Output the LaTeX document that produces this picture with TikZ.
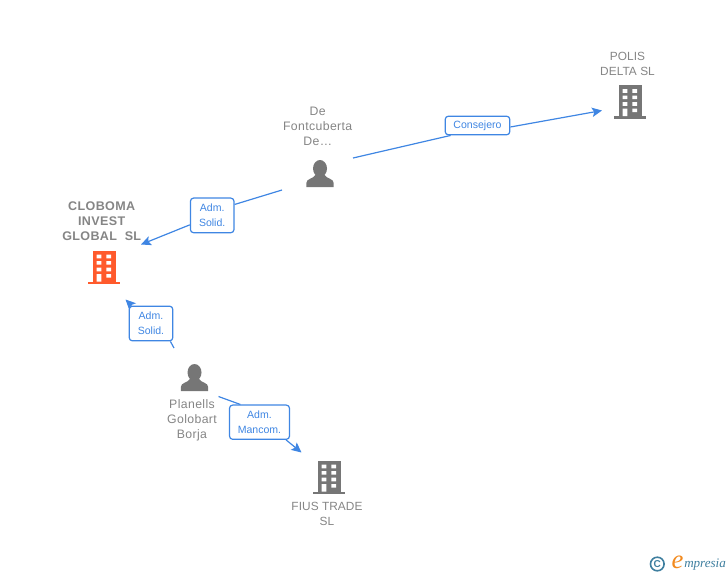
\documentclass[tikz,border=0pt]{standalone}
\usepackage{fontspec}
\setmainfont{Liberation Sans}
\newfontfamily\nameletter[LetterSpace=3]{Liberation Sans}
\newfontfamily\capsletter[LetterSpace=0.5]{Liberation Sans}
\newfontfamily\logofont{Liberation Serif}
\usetikzlibrary{arrows.meta,calc}
\definecolor{linkblue}{HTML}{3F86E3}
\definecolor{namegray}{HTML}{858585}
\definecolor{icongray}{HTML}{767676}
\definecolor{iconorange}{HTML}{FF5A2C}
\definecolor{logoteal}{HTML}{3F7F9F}
\definecolor{logoorange}{HTML}{F28A1E}
\tikzset{
  x=0.75pt,y=-0.75pt,
  namelabel/.style={text=namegray,align=center,font=\fontsize{9.2pt}{11.25pt}\selectfont\nameletter,inner sep=0pt},
  capslabel/.style={namelabel,font=\fontsize{8.9pt}{11.25pt}\selectfont\capsletter},
  mainlabel/.style={namelabel,font=\fontsize{9.4pt}{11.25pt}\selectfont\nameletter\bfseries},
  rolebox/.style={draw=linkblue,line width=0.9pt,rounded corners=2.4pt,fill=white,text=linkblue,align=center,
    font=\fontsize{7.9pt}{11.25pt}\selectfont,inner sep=0pt},
  link/.style={draw=linkblue,line width=0.9pt},
  linkarrow/.style={link,-{Stealth[length=7.5pt,width=7pt,inset=1.6pt]}},
  pics/building/.style={code={
    \fill[#1] (-11.5,-33.5) rectangle (11.5,0);
    \fill[#1] (-16,-2.5) rectangle (16,0);
    \fill[white] (-7.3,-29.3) rectangle (-2.7,-25.7) (2.3,-29.3) rectangle (7,-25.7)
      (-7.3,-23) rectangle (-2.7,-19.3) (2.3,-23) rectangle (7,-19.3)
      (-7.3,-16.3) rectangle (-2.7,-12.7) (2.3,-16.3) rectangle (7,-12.7)
      (-7.3,-10) rectangle (-2.7,-2.5) (2.3,-10) rectangle (7,-6.3);
  }},
  pics/person/.style={code={
    \fill[icongray] (0,-18.5) ellipse [x radius=7,y radius=8.5];
    \fill[icongray] (-13.7,0) -- (-13.7,-4) .. controls (-13.5,-8.5) and (-7,-8) .. (-4.5,-12)
      -- (4.5,-12) .. controls (7,-8) and (13.5,-8.5) .. (13.7,-4) -- (13.7,0) -- cycle;
  }}
}
\begin{document}
\begin{tikzpicture}
\useasboundingbox (0,0) rectangle (728,575);

% icons
\pic at (630,118.5) {building=icongray};
\pic at (104,284) {building=iconorange};
\pic at (329,494) {building=icongray};
\pic at (320,187) {person};
\pic at (194.5,391) {person};

% names
\node[capslabel] (polis) at (627.5,63.5) {POLIS\\DELTA SL};
\node[namelabel] (font) at (317.7,126) {De\\Fontcuberta\\De\ldots};
\node[mainlabel] (clob) at (101.7,220.7) {CLOBOMA\\INVEST\\GLOBAL\ \ SL};
\node[namelabel] (plan) at (192,420.5) {Planells\\Golobart\\Borja};
\node[capslabel] (fius) at (327,513.5) {FIUS TRADE\\SL};

% role boxes
\node[rolebox,minimum width=48.4pt,minimum height=14pt] (cons) at (477.5,125.5) {Consejero};
\node[rolebox,minimum width=32.7pt,minimum height=26pt] (sol1) at (212.2,215.4) {Adm.\\Solid.};
\node[rolebox,minimum width=32.7pt,minimum height=26pt] (sol2) at (151,323.5) {Adm.\\Solid.};
\node[rolebox,minimum width=45pt,minimum height=25.7pt] (manc) at (259.5,422.2) {Adm.\\Mancom.};

% free ends
\coordinate (a1) at (353,158);
\coordinate (a2) at (602,110.5);
\coordinate (b1) at (282,190);
\coordinate (b2) at (141,244.5);
\coordinate (c1) at (174,348);
\coordinate (c2) at (125.5,299.5);
\coordinate (d1) at (218.5,396.5);
\coordinate (d2) at (301.5,452.5);

% connectors
\draw[link] (a1) -- ($(cons.south west)+(6,0)$);
\draw[linkarrow] (cons.east) ++(0,1.5) -- (a2);
\draw[link] (b1) -- ($(sol1.north east)+(0,7)$);
\draw[linkarrow] ($(sol1.south west)+(0,-8.5)$) -- (b2);
\draw[link] (c1) -- ($(sol2.south east)+(-3,0)$);
\draw[linkarrow] ($(sol2.north west)+(3,0)$) -- (c2);
\draw[link] (d1) -- ($(manc.north west)+(11.5,0)$);
\draw[linkarrow] ($(manc.south east)+(-4,0)$) -- (d2);

% logo
\node[circle,draw=logoteal,line width=1.2pt,minimum size=10.2pt,inner sep=0pt,text=logoteal,font=\fontsize{7.5pt}{7.5pt}\selectfont\bfseries] (copy) at (657.3,564) {C};
\node[text=logoorange,font=\fontsize{20pt}{20pt}\selectfont\logofont\itshape,inner sep=0pt] (logoe) at (677.5,562) {e};
\node[text=logoteal,font=\fontsize{9.8pt}{9.8pt}\selectfont\logofont\itshape,inner sep=0pt,anchor=base west] (logot) at (684,567.5) {mpresia};
\end{tikzpicture}
\end{document}
